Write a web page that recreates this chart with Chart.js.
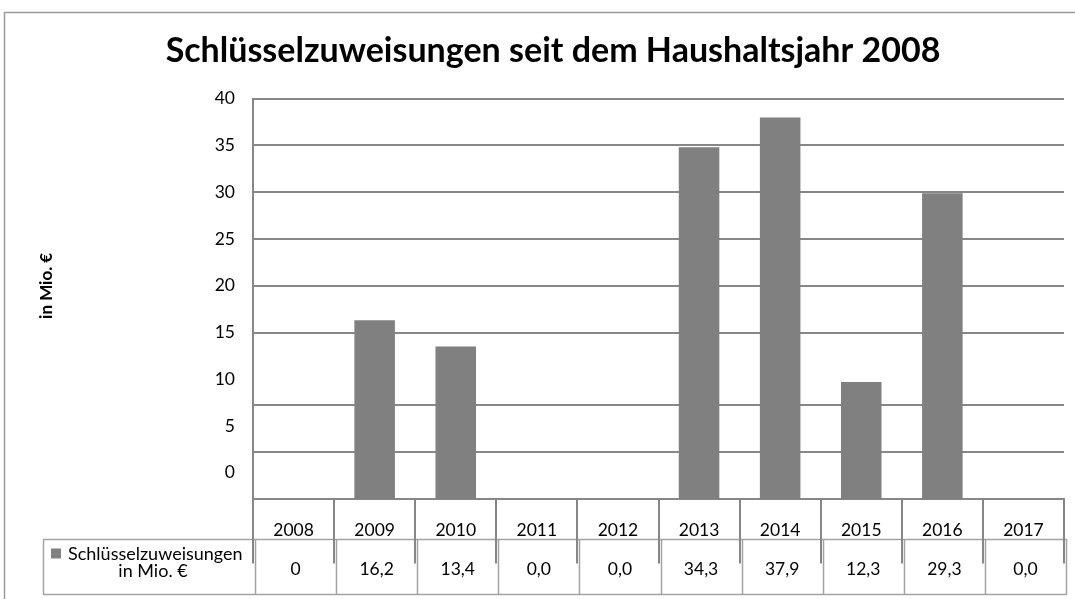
<!DOCTYPE html>
<html>
<head>
<meta charset="utf-8">
<script src="https://cdn.jsdelivr.net/npm/chart.js@4/dist/chart.umd.min.js"></script>
<style>
body{margin:0;background:#fff;}
#wrap{width:1075px;height:599px;}
</style>
</head>
<body>
<div id="wrap"><canvas id="mychart" width="1075" height="599"></canvas></div>
<script>
var years = ['2008','2009','2010','2011','2012','2013','2014','2015','2016','2017'];
// bar heights (0 = no bar drawn)
var barValues = [0, 16.3, 13.5, 0, 0, 34.8, 38.0, 9.7, 29.9, 0];
// numbers printed in the data table below the bars
var tableValues = ['0','16,2','13,4','0,0','0,0','34,3','37,9','12,3','29,3','0,0'];
var yLabels = [0, 5, 10, 15, 20, 25, 30, 35, 40];
var yGridLines = [2.2, 7.3, 15, 20, 25, 30, 35, 40];
var yMin = -2.8, yMax = 40;
var seriesLine1 = 'Schlüsselzuweisungen';
var seriesLine2 = 'in Mio. €';
var yTitle = 'in Mio. €';
var chartTitle = 'Schlüsselzuweisungen seit dem Haushaltsjahr 2008';

var lineDark = '#878787';
var lineLight = '#a3a3a3';
var barColor = '#808080';
var fam = 'Lato, "Open Sans", sans-serif';

var framePlugin = {
	id: 'frame',
	beforeDraw: function(chart){
		var ctx = chart.ctx;
		ctx.save();
		ctx.fillStyle = '#fff';
		ctx.fillRect(0, 0, chart.width, chart.height);
		ctx.strokeStyle = '#9a9a9a';
		ctx.lineWidth = 1.5;
		ctx.beginPath();
		ctx.moveTo(4.5, chart.height);
		ctx.lineTo(4.5, 12.5);
		ctx.lineTo(chart.width, 12.5);
		ctx.stroke();
		// axis title, sits a little above the middle of the plot like the original
		var a = chart.chartArea;
		ctx.translate(47, (a.top + a.bottom) / 2 - 13);
		ctx.rotate(-Math.PI / 2);
		ctx.fillStyle = '#000';
		ctx.font = 'bold 17px ' + fam;
		ctx.textAlign = 'center';
		ctx.textBaseline = 'middle';
		ctx.fillText(yTitle, 0, 0);
		ctx.restore();
	}
};

var tablePlugin = {
	id: 'datatable',
	afterDraw: function(chart){
		var ctx = chart.ctx;
		var xs = chart.scales.x;
		var area = chart.chartArea;
		var n = years.length;
		var colW = (xs.right - xs.left) / n;
		var top = area.bottom;
		var rowTop = top + 40.5;
		var rowBot = top + 95.5;
		ctx.save();
		// value row: light cell borders
		ctx.strokeStyle = lineLight;
		ctx.lineWidth = 1.5;
		ctx.beginPath();
		ctx.moveTo(43, rowTop); ctx.lineTo(xs.right + 3, rowTop);
		ctx.moveTo(43, rowBot); ctx.lineTo(xs.right + 3, rowBot);
		ctx.moveTo(43.5, rowTop); ctx.lineTo(43.5, rowBot);
		for (var i = 0; i <= n; i++) {
			var cx = Math.round(xs.left + i * colW) + 2.5;
			ctx.moveTo(cx, rowTop); ctx.lineTo(cx, rowBot);
		}
		ctx.stroke();
		// header row: dark column lines running a bit into the value row
		ctx.strokeStyle = lineDark;
		ctx.lineWidth = 2;
		ctx.beginPath();
		for (var j = 0; j <= n; j++) {
			var hx = Math.round(xs.left + j * colW);
			ctx.moveTo(hx, top); ctx.lineTo(hx, rowTop + 24);
		}
		ctx.stroke();
		// values
		ctx.fillStyle = '#000';
		ctx.font = '17.5px ' + fam;
		ctx.textAlign = 'center';
		ctx.textBaseline = 'alphabetic';
		for (var k = 0; k < n; k++) {
			ctx.fillText(tableValues[k], xs.getPixelForTick(k) + 2, rowTop + 35);
		}
		// legend cell
		ctx.fillStyle = barColor;
		ctx.fillRect(51, rowTop + 9, 10, 10);
		ctx.fillStyle = '#000';
		ctx.font = '18px ' + fam;
		ctx.textAlign = 'left';
		ctx.fillText(seriesLine1, 68, rowTop + 20);
		ctx.textAlign = 'center';
		ctx.fillText(seriesLine2, 153, rowTop + 37.5);
		ctx.restore();
	}
};

var ctx = document.getElementById('mychart').getContext('2d');
var chart = new Chart(ctx, {
	type: 'bar',
	data: {
		labels: years,
		datasets: [{
			label: seriesLine1 + ' ' + seriesLine2,
			data: barValues.map(function(v){ return v > 0 ? [yMin, v] : null; }),
			backgroundColor: barColor,
			borderWidth: 0,
			barPercentage: 0.5,
			categoryPercentage: 1.0
		}]
	},
	options: {
		responsive: false,
		animation: false,
		layout: { padding: { left: 42, right: 11, top: 0, bottom: 0 } },
		plugins: {
			legend: { display: false },
			tooltip: { enabled: false },
			title: {
				display: true,
				text: chartTitle,
				color: '#000',
				font: { family: fam, size: 34, weight: 'bold' },
				padding: { top: 31, bottom: 26.9 }
			}
		},
		scales: {
			x: {
				afterFit: function(s){ s.height = 100; },
				grid: { display: false, drawTicks: false },
				border: { color: lineDark, width: 2 },
				ticks: {
					color: '#000',
					font: { family: fam, size: 17.5 },
					padding: 21,
					maxRotation: 0,
					autoSkip: false
				}
			},
			y: {
				min: yMin,
				max: yMax,
				afterFit: function(s){ s.width = 211; },
				afterBuildTicks: function(s){
					var all = yLabels.concat(yGridLines).filter(function(v, i, a){ return a.indexOf(v) === i; });
					all.sort(function(a, b){ return a - b; });
					s.ticks = all.map(function(v){ return { value: v }; });
				},
				ticks: {
					color: '#000',
					font: { family: fam, size: 17.5 },
					padding: 18,
					autoSkip: false,
					callback: function(v){ return yLabels.indexOf(v) >= 0 ? String(v) : ''; }
				},
				grid: {
					drawTicks: false,
					lineWidth: 2,
					color: function(c){
						if (c.tick && yGridLines.indexOf(c.tick.value) >= 0) return lineDark;
						return 'rgba(0,0,0,0)';
					}
				},
				border: { color: lineDark, width: 2 },
				title: { display: false }
			}
		}
	},
	plugins: [framePlugin, tablePlugin]
});
</script>
</body>
</html>
